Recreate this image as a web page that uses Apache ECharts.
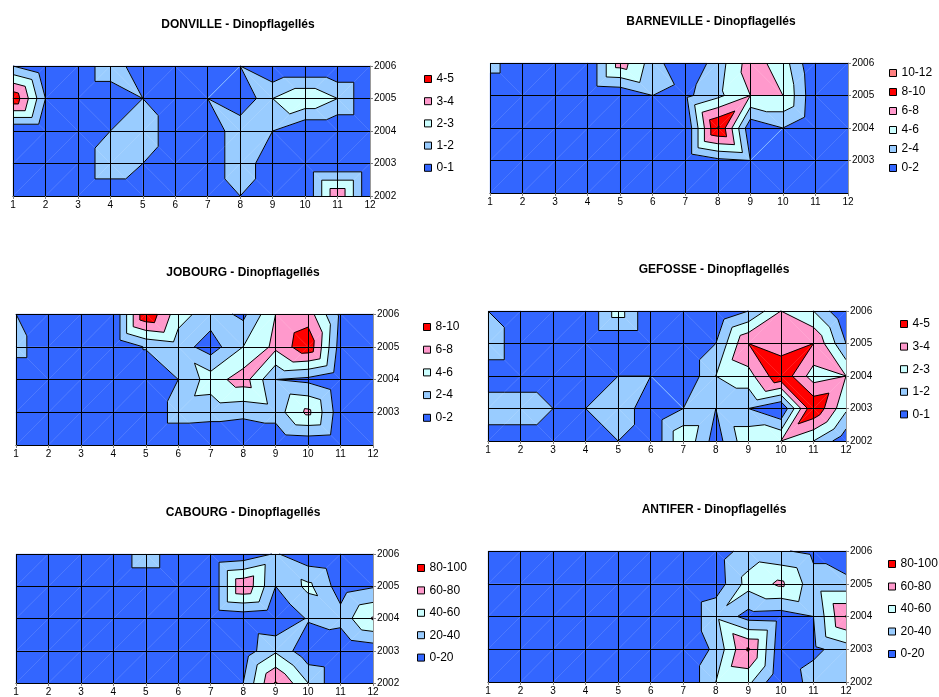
<!DOCTYPE html>
<html>
<head>
<meta charset="utf-8">
<script src="https://cdn.jsdelivr.net/npm/echarts@6/dist/echarts.min.js"></script>
<style>
  html, body { margin: 0; padding: 0; background: #fff; }
  #chart { width: 939px; height: 697px; }
</style>
</head>
<body>
<div id="chart"></div>
<script>
// grid of the data: months on x, years on y
const months = [1, 2, 3, 4, 5, 6, 7, 8, 9, 10, 11, 12];
const years = [2002, 2003, 2004, 2005, 2006];

// band labels + levels (three kinds of scale)
const bands5 = ['0-1', '1-2', '2-3', '3-4', '4-5'];
const levels5 = [0, 1, 2, 3, 4, 5];
const bands10 = ['0-2', '2-4', '4-6', '6-8', '8-10'];
const levels10 = [0, 2, 4, 6, 8, 10];
const bands12 = ['0-2', '2-4', '4-6', '6-8', '8-10', '10-12'];
const levels12 = [0, 2, 4, 6, 8, 10, 12];
const bands100 = ['0-20', '20-40', '40-60', '60-80', '80-100'];
const levels100 = [0, 20, 40, 60, 80, 100];

// values, one row per year (2002 -> 2006)
const donville = [
  [0, 0, 0, 0, 0, 0, 0, 1, 0, 0, 3.9, 0],
  [0, 0, 0, 1.9, 1, 0, 0, 1.9, 0, 0, 0, 0],
  [0, 0, 0, 1, 1.9, 0, 0, 1.9, 1, 0, 0, 0],
  [4.8, 1, 0, 0, 1, 0, 1, 0, 2, 2.9, 2, 0],
  [1, 0, 0, 1.9, 0, 0, 0, 1, 0, 0, 0, 0]
];
const barneville = [
  [0, 0, 0, 0, 0, 0, 0, 0, 0, 0, 0, 0],
  [0, 0, 0, 0, 0, 0, 0, 1.5, 2, 0, 0, 0],
  [0, 0, 0, 0, 0, 0, 0, 10.2, 0.5, 2, 0, 0],
  [0, 0, 0, 0, 0.3, 2, 1.5, 3.5, 6, 6, 0.3, 0],
  [2.9, 0, 0, 0, 7, 3, 0, 3, 7, 5, 0, 0]
];
const jobourg = [
  [0, 0, 0, 0, 0, 0, 0, 0, 0, 0.3, 0, 0],
  [0, 0, 0, 0, 0, 3, 2.8, 2.5, 3, 6.5, 0.7, 0],
  [0, 0, 0, 0, 0, 2, 5, 7, 2, 1.5, 0, 0],
  [3, 0, 0, 0, 2.2, 3, 1, 4, 6.5, 9.5, 1, 0],
  [2, 0, 0, 0, 9.8, 4.8, 3, 1.5, 6, 7, 1.5, 0]
];
const gefosse = [
  [0, 0, 0, 0, 1, 0, 2.9, 0.5, 2.8, 3, 2, 0.3],
  [2, 2, 1, 1, 2, 0, 1, 1, 1, 0, 4.9, 2.2],
  [0, 0, 0, 0, 1, 1, 0, 2, 2.6, 4.8, 2.5, 3],
  [2, 0, 0, 0, 0, 0, 0, 1, 4, 3.5, 4, 1],
  [1, 0, 0, 0, 2.5, 0, 0, 0, 1, 3, 2, 0]
];
const cabourg = [
  [0, 0, 0, 0, 0, 0, 0, 20, 82, 40, 0, 0],
  [0, 0, 0, 0, 0, 0, 0, 8, 37, 5, 0, 7],
  [0, 0, 0, 0, 0, 0, 0, 5, 0, 22, 28, 62],
  [0, 0, 0, 0, 0, 0, 0, 78, 20, 45, 10, 18],
  [0, 0, 0, 0, 35, 0, 0, 5, 22, 5, 0, 0]
];
const antifer = [
  [0, 0, 0, 0, 0, 0, 0, 40, 45, 0, 30, 22],
  [0, 0, 0, 0, 0, 0, 0, 25, 82, 5, 15, 30],
  [0, 0, 0, 0, 0, 0, 0, 36, 12, 10, 20, 81],
  [0, 0, 0, 0, 0, 0, 0, 8, 48, 64, 28, 28],
  [0, 0, 0, 0, 0, 0, 0, 10, 28, 22, 15, 0]
];

const bandColors = ['#3366FF', '#99CCFF', '#CCFFFF', '#FF99CC', '#FF0000', '#FF8080'];
const font = 'Liberation Sans, Arial, sans-serif';

const panels = [
  { title: 'DONVILLE - Dinopflagellés', values: donville, levels: levels5, names: bands5,
    grid: [13, 66, 357, 130], titleAt: [238, 24], legendAt: [424, 73, 10.2] },
  { title: 'BARNEVILLE - Dinopflagellés', values: barneville, levels: levels12, names: bands12,
    grid: [490, 63, 358, 130], titleAt: [711, 21], legendAt: [889, 67, 7] },
  { title: 'JOBOURG - Dinopflagellés', values: jobourg, levels: levels10, names: bands10,
    grid: [16, 314, 357, 131], titleAt: [243, 272], legendAt: [423, 321, 10.7] },
  { title: 'GEFOSSE - Dinopflagellés', values: gefosse, levels: levels5, names: bands5,
    grid: [488, 311, 358, 130], titleAt: [714, 269], legendAt: [900, 318, 10.6] },
  { title: 'CABOURG - Dinopflagellés', values: cabourg, levels: levels100, names: bands100,
    grid: [16, 554, 357, 131], titleAt: [243, 512], legendAt: [417, 562, 10.4] },
  { title: 'ANTIFER - Dinopflagellés', values: antifer, levels: levels100, names: bands100,
    grid: [488, 551, 358, 131], titleAt: [714, 509], legendAt: [888, 558, 10.5] }
];

// split every cell in two triangles, along the diagonal with the larger sum
function triangles(values) {
  const tris = [];
  for (let j = 0; j < years.length - 1; j++) {
    for (let i = 0; i < months.length - 1; i++) {
      const bl = [months[i], years[j], values[j][i]];
      const br = [months[i + 1], years[j], values[j][i + 1]];
      const tl = [months[i], years[j + 1], values[j + 1][i]];
      const tr = [months[i + 1], years[j + 1], values[j + 1][i + 1]];
      if (tl[2] + br[2] > bl[2] + tr[2]) {
        tris.push([tl, bl, br], [tl, tr, br]);
      } else {
        tris.push([bl, br, tr], [bl, tl, tr]);
      }
    }
  }
  return tris;
}

function clip(poly, level, above) {
  const out = [];
  for (let k = 0; k < poly.length; k++) {
    const a = poly[k], b = poly[(k + 1) % poly.length];
    const ina = above ? a[2] >= level : a[2] <= level;
    const inb = above ? b[2] >= level : b[2] <= level;
    if (ina) out.push(a);
    if (ina !== inb) {
      const t = (level - a[2]) / (b[2] - a[2]);
      out.push([a[0] + t * (b[0] - a[0]), a[1] + t * (b[1] - a[1]), level]);
    }
  }
  return out;
}

// a node equal to the level counts as below it, so touching points draw nothing
function crossing(tri, level) {
  const pts = [];
  for (let k = 0; k < 3; k++) {
    const a = tri[k], b = tri[(k + 1) % 3];
    if ((a[2] > level) !== (b[2] > level)) {
      const t = (level - a[2]) / (b[2] - a[2]);
      pts.push([a[0] + t * (b[0] - a[0]), a[1] + t * (b[1] - a[1])]);
    }
  }
  return pts.length === 2 ? [pts[0][0], pts[0][1], pts[1][0], pts[1][1]] : null;
}

const grids = [], xAxes = [], yAxes = [], series = [], legends = [], graphics = [];

panels.forEach((p, gi) => {
  grids.push({ left: p.grid[0], top: p.grid[1], width: p.grid[2], height: p.grid[3] });

  xAxes.push({
    gridIndex: gi, type: 'value', min: 1, max: 12, interval: 1, z: 10,
    axisLine: { show: true, lineStyle: { color: '#000', width: 1 } },
    axisTick: { show: true, length: 3, lineStyle: { color: '#808080' } },
    axisLabel: { fontSize: 10, color: '#000', fontFamily: font, margin: 4 },
    splitLine: { show: true, showMaxLine: false, lineStyle: { color: '#000', width: 1 } }
  });
  yAxes.push({
    gridIndex: gi, type: 'value', position: 'right', min: 2002, max: 2006, interval: 1, z: 10,
    axisLine: { show: true, lineStyle: { color: '#999', width: 1 } },
    axisTick: { show: true, length: 3, lineStyle: { color: '#808080' } },
    axisLabel: { fontSize: 10, color: '#000', fontFamily: font, margin: 4,
      showMinLabel: gi !== 1 && gi !== 2, formatter: v => String(v) },
    splitLine: { show: true, showMinLine: false, lineStyle: { color: '#000', width: 1 } }
  });

  const tris = triangles(p.values);
  const nb = p.names.length;

  p.names.forEach((name, b) => {
    const lo = b === 0 ? -Infinity : p.levels[b];
    const hi = b === nb - 1 ? Infinity : p.levels[b + 1];
    const polys = [];
    tris.forEach(t => {
      let poly = t;
      if (lo !== -Infinity) poly = clip(poly, lo, true);
      if (poly.length >= 3 && hi !== Infinity) poly = clip(poly, hi, false);
      if (poly.length >= 3) polys.push(poly);
    });
    const color = bandColors[b];
    series.push({
      name: name, type: 'custom', xAxisIndex: gi, yAxisIndex: gi,
      itemStyle: { color: color },
      encode: { x: 0, y: 1 },
      data: polys.map(poly => [poly[0][0], poly[0][1]]),
      renderItem: (params, api) => {
        const poly = polys[params.dataIndex];
        return {
          type: 'polygon',
          shape: { points: poly.map(q => api.coord([q[0], q[1]])) },
          style: { fill: color, stroke: color, lineWidth: 0.3 }
        };
      }
    });
  });

  // contour lines between the bands
  const segs = [];
  p.levels.slice(1, -1).forEach(level => {
    tris.forEach(t => {
      const s = crossing(t, level);
      if (s) segs.push(s);
    });
  });
  series.push({
    type: 'custom', xAxisIndex: gi, yAxisIndex: gi, z: 3,
    dimensions: ['x1', 'y1', 'x2', 'y2'],
    encode: { x: [0, 2], y: [1, 3] },
    data: segs,
    renderItem: (params, api) => {
      const a = api.coord([api.value(0), api.value(1)]);
      const b = api.coord([api.value(2), api.value(3)]);
      return {
        type: 'line',
        shape: { x1: a[0], y1: a[1], x2: b[0], y2: b[1] },
        style: { stroke: '#000', lineWidth: 1 }
      };
    }
  });

  legends.push({
    orient: 'vertical', left: p.legendAt[0], top: p.legendAt[1], itemGap: p.legendAt[2],
    padding: 0, itemWidth: 7, itemHeight: 7, icon: 'rect', selectedMode: false,
    itemStyle: { borderColor: '#000', borderWidth: 1 },
    textStyle: { fontSize: 12, color: '#000', fontFamily: font },
    data: p.names.slice().reverse()
  });

  graphics.push({
    type: 'text', x: p.titleAt[0], y: p.titleAt[1] + 1,
    style: { text: p.title, align: 'center', verticalAlign: 'middle',
      font: 'bold 12px ' + font, fill: '#000' }
  });
});

const chart = echarts.init(document.getElementById('chart'), null, { renderer: 'canvas' });
chart.setOption({
  animation: false,
  backgroundColor: '#fff',
  grid: grids,
  xAxis: xAxes,
  yAxis: yAxes,
  legend: legends,
  graphic: graphics,
  series: series
});
</script>
</body>
</html>
